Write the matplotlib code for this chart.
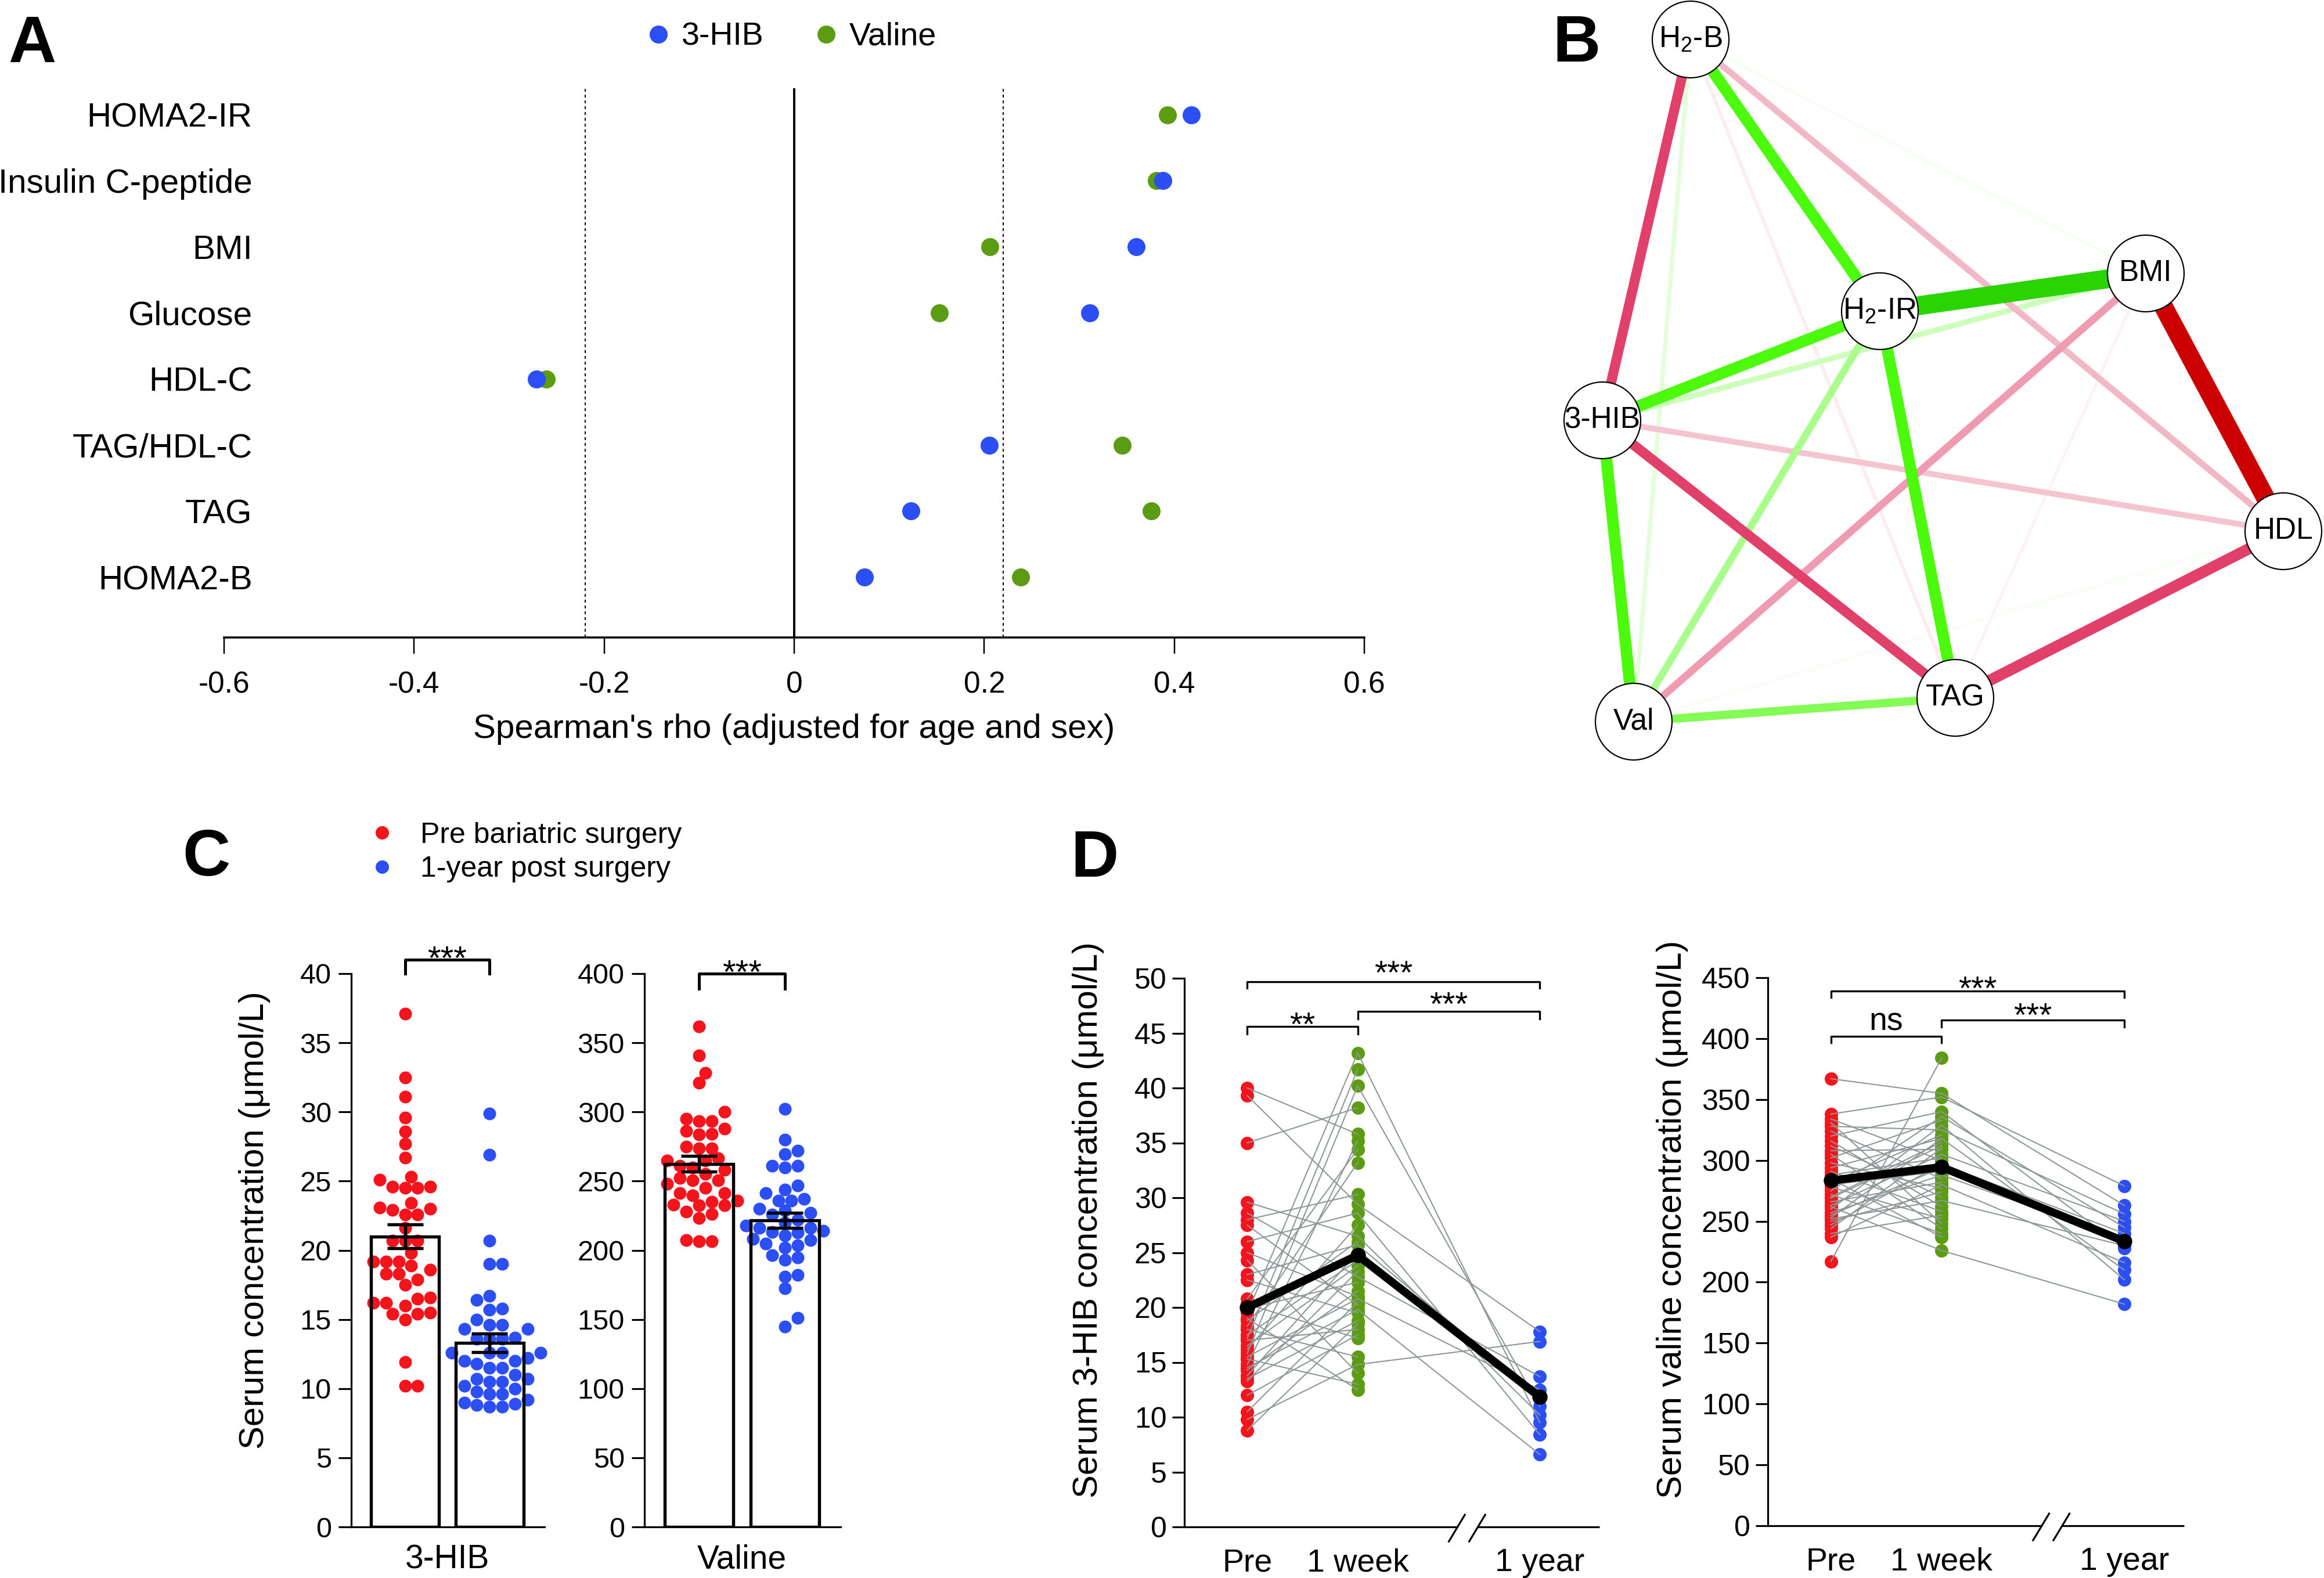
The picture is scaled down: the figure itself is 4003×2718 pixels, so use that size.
import numpy as np
import matplotlib.pyplot as plt
from matplotlib.colors import to_rgb
from matplotlib.lines import Line2D
from matplotlib.patches import Circle
import matplotlib.transforms as mtransforms

plt.rcParams['font.family'] = ['Liberation Sans', 'DejaVu Sans']
plt.rcParams['axes.unicode_minus'] = False
plt.rcParams['mathtext.default'] = 'regular'

W, H = 4003, 2718
PX = 0.72  # points per pixel at dpi 100

red = '#f5141c'
blue = '#2b4ef5'
green = '#5b9c12'
grey = '#8d9797'
nan = np.nan

# ---------- A: Spearman's rho, adjusted for age and sex
traits = ['HOMA2-IR', 'Insulin C-peptide', 'BMI', 'Glucose', 'HDL-C', 'TAG/HDL-C', 'TAG', 'HOMA2-B']
rho_hib = [0.418, 0.388, 0.360, 0.311, -0.271, 0.205, 0.123, 0.074]
rho_val = [0.393, 0.381, 0.206, 0.153, -0.261, 0.345, 0.376, 0.238]
rho_sig = 0.22

# ---------- B: correlation network
node_labels = {'H2B': 'H$_2$-B', 'H2IR': 'H$_2$-IR', 'BMI': 'BMI', 'HIB': '3-HIB',
               'HDL': 'HDL', 'Val': 'Val', 'TAG': 'TAG'}
node_xy = {'H2B': (312, 68), 'H2IR': (638, 536), 'BMI': (1096, 471), 'HIB': (160, 724),
           'HDL': (1333, 915), 'Val': (214, 1243), 'TAG': (768, 1202)}
edges = [('H2IR', 'BMI', 0.70), ('BMI', 'HDL', -0.70), ('H2B', 'H2IR', 0.42),
         ('H2IR', 'HIB', 0.42), ('H2IR', 'TAG', 0.42), ('HIB', 'Val', 0.42),
         ('H2B', 'HIB', -0.36), ('HIB', 'TAG', -0.36), ('HDL', 'TAG', -0.41),
         ('Val', 'TAG', 0.30), ('H2IR', 'Val', 0.25), ('BMI', 'HIB', 0.19),
         ('BMI', 'Val', -0.26), ('H2B', 'HDL', -0.22), ('HIB', 'HDL', -0.20),
         ('H2B', 'Val', 0.14), ('H2B', 'TAG', -0.11), ('BMI', 'TAG', -0.09),
         ('H2B', 'BMI', 0.08), ('HDL', 'Val', 0.07)]

# ---------- C: pre vs 1-year post surgery
hib_pre_c = [37.1, 32.5, 31.1, 29.6, 28.6, 27.7, 26.7, 25.3, 25.1, 24.6, 24.5, 24.6, 24.5,
             23.4, 22.6, 22.9, 23.1, 22.6, 23.0, 21.6, 20.7, 20.7, 20.7, 19.8, 18.9, 19.2,
             19.2, 18.6, 19.2, 18.3, 18.3, 17.9, 17.5, 16.2, 16.6, 16.2, 16.5, 16.0, 15.5,
             15.0, 15.4, 15.4, 11.9, 10.2, 10.2]
hib_post_c = [29.9, 26.9, 20.7, 19.0, 19.0, 16.7, 16.4, 15.8, 15.7, 15.0, 14.6, 14.3, 14.6,
              14.3, 13.6, 13.6, 13.6, 13.7, 12.6, 12.6, 12.6, 12.6, 12.0, 12.0, 11.8, 11.5,
              11.5, 10.2, 10.5, 10.5, 10.7, 10.7, 9.6, 9.8, 9.6, 8.8, 9.0, 8.7, 8.7, 9.2,
              10.0, 11.0, 12.2, 8.9]
val_pre_c = [361.6, 340.8, 328.2, 321.0, 299.9, 293.4, 295.2, 293.4, 288.0, 283.7, 286.2,
             284.0, 274.8, 273.7, 273.7, 261.1, 264.7, 266.5, 265.0, 260.0, 250.4, 250.4,
             252.2, 241.4, 239.6, 241.4, 236.0, 235.0, 232.4, 233.0, 232.4, 226.3, 223.5,
             206.6, 207.3, 206.6, 258.0, 245.0, 248.0, 255.0, 228.0]
val_post_c = [302.4, 279.8, 271.9, 269.4, 261.1, 261.0, 260.0, 243.9, 246.8, 241.4, 236.0,
              236.0, 237.0, 226.0, 227.0, 228.8, 216.3, 212.7, 216.0, 214.0, 213.4, 210.9,
              202.0, 203.7, 205.0, 207.3, 193.0, 194.8, 196.6, 181.1, 182.2, 172.5, 151.0,
              144.6, 220.0, 222.0, 218.0, 230.0, 208.0]

# ---------- D: paired time course (Pre, 1 week, 1 year)
timepoints = ['Pre', '1 week', '1 year']
time_x = [0, 1, 2.65]
hib_pre = [40.0, 39.3, 35.0, 29.6, 28.6, 28.0, 27.5, 26.0, 25.0, 24.3, 23.0, 22.5, 20.8,
           20.3, 19.9, 19.5, 19.0, 18.8, 18.3, 18.0, 17.5, 17.2, 17.0, 16.5, 16.2, 15.8,
           15.5, 15.3, 14.8, 14.5, 14.3, 13.8, 13.5, 13.3, 12.0, 10.5, 9.8, 8.8]
hib_week = [35.8, 29.4, 38.2, 26.5, 22.8, 30.3, 20.2, 28.6, 21.0, 14.0, 25.7, 19.5, 34.4,
            17.2, 22.3, 43.2, 12.5, 26.0, 33.2, 15.5, 24.3, 41.7, 18.0, 23.8, 27.5, 40.2,
            20.8, 13.0, 35.2, 19.8, 21.5, 25.0, 18.8, 23.3, 17.5, 20.5, 14.8, 18.5]
hib_year = [nan, 17.8, nan, 10.2, 13.7, nan, nan, 8.4, nan, nan, 11.8, nan, nan, nan, nan,
            9.5, nan, nan, nan, nan, nan, nan, nan, nan, nan, 11.0, 12.5, nan, nan, 6.6,
            nan, nan, nan, nan, nan, nan, 16.9, nan]
val_pre = [367, 338, 334, 331, 328, 324, 320, 316, 312, 308, 305, 302, 298, 294, 291, 288,
           285, 282, 280, 278, 275, 272, 269, 266, 263, 260, 257, 255, 253, 252, 250, 247,
           244, 240, 237, 270, 262, 217]
val_week = [355, 352, 300, 248, 325, 285, 340, 262, 270, 309, 244, 333, 277, 318, 258, 302,
            237, 321, 291, 252, 336, 240, 312, 282, 305, 329, 288, 294, 318, 267, 274, 297,
            310, 255, 280, 315, 226, 384]
val_year = [263, 279, nan, nan, 256, nan, 228, nan, nan, nan, nan, nan, nan, 210, nan, nan,
            nan, nan, nan, nan, 245, nan, nan, nan, 250, 202, 235, nan, nan, 230, nan, 240,
            nan, nan, 216, nan, 182, nan]

fig = plt.figure(figsize=(W / 100, H / 100), dpi=100)


def rect(x0, y0, x1, y1):
    return [x0 / W, 1 - y1 / H, (x1 - x0) / W, (y1 - y0) / H]


def style_axes(ax, lw=2.3):
    for s in ('top', 'right'):
        ax.spines[s].set_visible(False)
    for s in ('left', 'bottom'):
        ax.spines[s].set_linewidth(lw)


# ================= A
axA = fig.add_axes(rect(386, 152, 2350, 1098))
ypos = np.arange(len(traits))[::-1] + 1
axA.axvline(0, color='k', lw=4 * PX, zorder=1)
for c in (-rho_sig, rho_sig):
    axA.axvline(c, color='k', lw=2 * PX, ls=(0, (2.5, 2.5)), zorder=1)
axA.scatter(rho_val, ypos, s=(31 * PX) ** 2, color=green, lw=0, zorder=3)
axA.scatter(rho_hib, ypos, s=(31 * PX) ** 2, color=blue, lw=0, zorder=4)
axA.set_xlim(-0.6, 0.6)
axA.set_ylim(0.088, 8.4)
for s in ('top', 'right', 'left'):
    axA.spines[s].set_visible(False)
axA.spines['bottom'].set_linewidth(3.5 * PX)
xt = [-0.6, -0.4, -0.2, 0, 0.2, 0.4, 0.6]
axA.set_xticks(xt, ['-0.6', '-0.4', '-0.2', '0', '0.2', '0.4', '0.6'])
axA.tick_params(axis='x', length=28 * PX, width=2.5 * PX, labelsize=37, pad=21)
axA.set_yticks(ypos, traits)
axA.tick_params(axis='y', length=0, labelsize=42, pad=-35)
fig.text(1368 / W, 1 - 1256 / H, "Spearman's rho (adjusted for age and sex)",
         ha='center', va='center', fontsize=42)
hA = [Line2D([], [], ls='', marker='o', ms=31 * PX, color=c, mec='none') for c in (blue, green)]
fig.legend(hA, ['3-HIB', 'Valine'], loc='center left', ncol=2,
           bbox_to_anchor=(1117 / W, 1 - 64 / H), frameon=False, fontsize=40,
           borderpad=0, borderaxespad=0, handlelength=0.6, handletextpad=0.43,
           columnspacing=1.62)

# ================= B
axB = fig.add_axes(rect(2600, 0, 4003, 1330))
axB.set_xlim(0, 1403)
axB.set_ylim(1330, 0)
axB.axis('off')
pos_base, neg_base = np.array(to_rgb('#4cfa0c')), np.array(to_rgb('#e0406a'))
pos_strong, neg_strong = np.array(to_rgb('#29d400')), np.array(to_rgb('#cc0000'))
for a, b, w in sorted(edges, key=lambda e: abs(e[2])):
    m = abs(w)
    if m > 0.6:
        col = pos_strong if w > 0 else neg_strong
    else:
        f = min(1.0, m / 0.36) ** 2
        base = pos_base if w > 0 else neg_base
        col = 1 - f * (1 - base)
    (x0, y0), (x1, y1) = node_xy[a], node_xy[b]
    axB.plot([x0, x1], [y0, y1], color=col, lw=(1 + 45 * m) * PX,
             solid_capstyle='butt', zorder=1)
for k, (x, y) in node_xy.items():
    axB.add_patch(Circle((x, y), 66, facecolor='white', edgecolor='k', lw=2.2 * PX, zorder=3))
    axB.text(x, y, node_labels[k], ha='center', va='center', fontsize=37, zorder=4)


# ================= C
def swarm(vals, ppu_y, ppu_x, d):
    y = np.asarray(vals, float) * ppu_y
    cands = [0.0] + [s * k * d * 0.5 for k in range(1, 30) for s in (1, -1)]
    px, py = [], []
    off = np.zeros(len(y))
    for i in np.argsort(y):
        for c in cands:
            if all((c - a) ** 2 + (y[i] - b) ** 2 >= (0.92 * d) ** 2 for a, b in zip(px, py)):
                break
        off[i] = c
        px.append(c)
        py.append(y[i])
    return off / ppu_x


axC1 = fig.add_axes(rect(605, 1677, 938, 2630))
axC2 = fig.add_axes(rect(1110, 1677, 1448, 2630))
for ax, pre, post, top, step, name, br in (
        (axC1, hib_pre_c, hib_post_c, 40, 5, '3-HIB', (40, 41, 40.3)),
        (axC2, val_pre_c, val_post_c, 400, 50, 'Valine', (389, 400, 393))):
    ppu_y = 953 / top
    for i, (vals, col) in enumerate(((pre, red), (post, blue))):
        vals = np.asarray(vals)
        m = vals.mean()
        sem = vals.std(ddof=1) / np.sqrt(len(vals))
        ax.bar(i, m, 0.8, color='white', zorder=1)
        ax.scatter(i + swarm(vals, ppu_y, 147, 22), vals, s=(22 * PX) ** 2, color=col,
                   lw=0, zorder=2, clip_on=False)
        ax.bar(i, m, 0.8, fill=False, edgecolor='k', lw=3.9, zorder=3)
        ax.errorbar(i, m, yerr=sem, fmt='none', ecolor='k', elinewidth=3.9, capsize=22,
                    capthick=3.9, zorder=4)
    ax.plot([0, 0, 1, 1], [br[0], br[1], br[1], br[0]], color='k', lw=3.6, clip_on=False)
    ax.text(0.5, br[2], '***', ha='center', va='baseline', fontsize=42)
    ax.set_xlim(-0.635, 1.65)
    ax.set_ylim(0, top)
    ax.set_yticks(np.arange(0, top + 1, step))
    ax.set_xticks([0.5], [name])
    style_axes(ax)
    ax.tick_params(axis='y', length=16, width=2.3, labelsize=35, pad=8.6)
    ax.tick_params(axis='x', length=0, labelsize=41, pad=21)
fig.text(438 / W, 1 - 2102 / H, 'Serum concentration (μmol/L)', rotation=90,
         ha='center', va='center', fontsize=43)
hC = [Line2D([], [], ls='', marker='o', ms=23 * PX, color=c, mec='none') for c in (red, blue)]
fig.legend(hC, ['Pre bariatric surgery', '1-year post surgery'], loc='center left',
           bbox_to_anchor=(643 / W, 1 - 1468 / H), frameon=False, fontsize=36,
           borderpad=0, borderaxespad=0, handlelength=0.6, handletextpad=1.02,
           labelspacing=0.25)

# ================= D
axD1 = fig.add_axes(rect(2040, 1685, 2755, 2630))
axD2 = fig.add_axes(rect(3045, 1684, 3762, 2628))
for ax, pre, week, year, top, step, brackets in (
        (axD1, hib_pre, hib_week, hib_year, 50, 5,
         [(0, 2.65, 49.7, 49.1, '***', 49.5), (0, 1, 45.6, 44.9, '**', 44.8),
          (1, 2.65, 47.0, 46.3, '***', 46.6)]),
        (axD2, val_pre, val_week, val_year, 450, 50,
         [(0, 2.65, 439, 434, '***', 432), (0, 1, 402, 396.6, 'ns', 407),
          (1, 2.65, 415, 409.6, '***', 410)])):
    cols = np.array([pre, week, year], float)
    for j, c in enumerate((red, green, blue)):
        ax.scatter(np.full(cols.shape[1], time_x[j]), cols[j], s=(23 * PX) ** 2,
                   color=c, lw=0, zorder=2)
    for a, b, c in cols.T:
        ax.plot(time_x[:2], [a, b], color=grey, lw=1.5, zorder=3)
        if not np.isnan(c):
            ax.plot(time_x[1:], [b, c], color=grey, lw=1.5, zorder=3)
    ax.plot(time_x, np.nanmean(cols, axis=1), color='k', lw=10, marker='o', ms=18, zorder=5)
    for x0, x1, yt, yl, s, yb in brackets:
        ax.plot([x0, x0, x1, x1], [yl, yt, yt, yl], color='k', lw=2.4, clip_on=False)
        ax.text((x0 + x1) / 2, yb, s, ha='center', va='baseline',
                fontsize=41 if '*' in s else 40)
    ax.set_xlim(-0.57, 3.19)
    ax.set_ylim(0, top)
    ax.set_yticks(np.arange(0, top + 1, step))
    ax.set_xticks(time_x, timepoints)
    style_axes(ax)
    ax.spines['bottom'].set_visible(False)
    tr = mtransforms.blended_transform_factory(ax.transData, ax.transAxes)
    for seg in ((-0.57, 1.906), (2.088, 3.19)):
        ax.plot(seg, [0, 0], color='k', lw=2.3, transform=tr, clip_on=False,
                solid_capstyle='butt')
    for sx in (1.826, 2.01):
        ax.plot([sx, sx + 0.145], [-0.0265, 0.0222], color='k', lw=2.3, transform=tr,
                clip_on=False)
    ax.tick_params(axis='y', length=15, width=2.3, labelsize=36, pad=7)
    ax.tick_params(axis='x', length=0, labelsize=40, pad=26)
fig.text(1874 / W, 1 - 2101 / H, 'Serum 3-HIB concentration (μmol/L)', rotation=90,
         ha='center', va='center', fontsize=43)
fig.text(2881 / W, 1 - 2100 / H, 'Serum valine concentration (μmol/L)', rotation=90,
         ha='center', va='center', fontsize=43)

# panel letters
for letter, x, y in (('A', 55, 107), ('B', 2715, 106), ('C', 355, 1508), ('D', 1886, 1510)):
    fig.text(x / W, 1 - y / H, letter, ha='center', va='baseline', fontsize=82,
             fontweight='bold')

fig.savefig('out.png', dpi=100)
